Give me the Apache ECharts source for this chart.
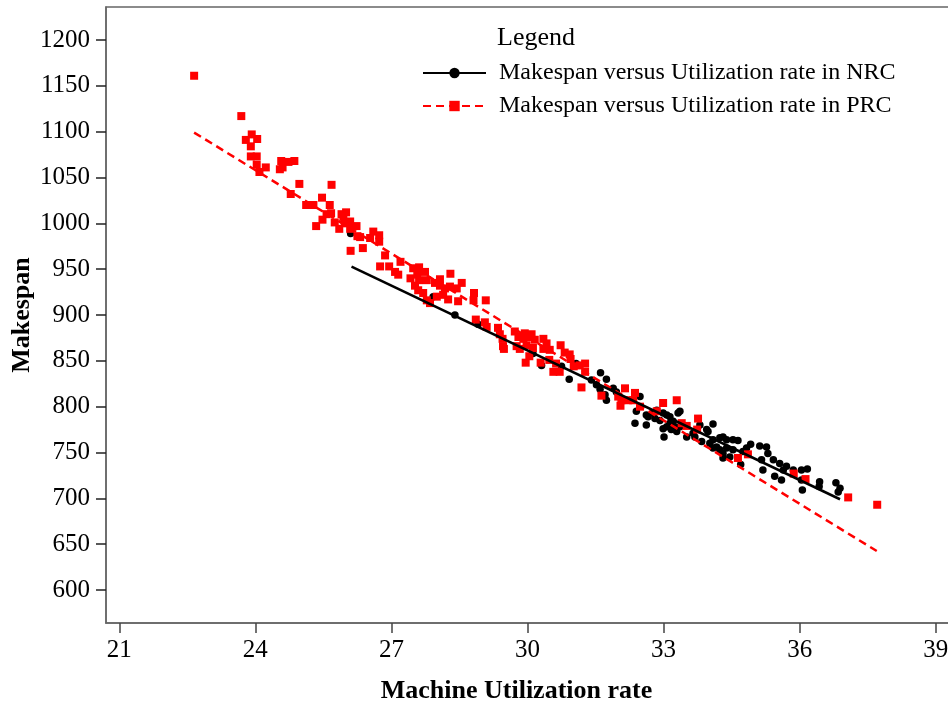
<!DOCTYPE html>
<html><head><meta charset="utf-8">
<script src="https://cdn.jsdelivr.net/npm/echarts@6/dist/echarts.min.js"></script>
<style>html,body{margin:0;padding:0;background:#fff}#c{width:948px;height:701px}</style>
</head><body><div id="c"></div>
<script>
const xTicks = [21, 24, 27, 30, 33, 36, 39];
const yTicks = [600, 650, 700, 750, 800, 850, 900, 950, 1000, 1050, 1100, 1150, 1200];

const nrcName = 'Makespan versus Utilization rate in NRC';
const prcName = 'Makespan versus Utilization rate in PRC';

const nrcUtil = [26.10,27.92,28.40,28.91,30.12,30.31,30.75,30.92,31.07,31.61,31.74,31.41,31.52,31.60,31.71,31.74,31.89,31.96,
  32.37,32.62,32.40,32.66,32.48,32.85,32.99,33.14,33.21,33.25,33.17,33.01,32.81,32.92,33.07,33.36,33.14,32.99,33.21,33.36,
  33.51,33.65,33.80,34.09,33.95,34.09,34.24,34.39,34.53,34.64,34.17,34.31,34.46,34.53,34.39,34.70,34.83,34.92,34.75,35.12,
  35.27,35.30,35.16,35.19,35.45,35.60,35.42,35.56,35.71,35.86,36.04,36.17,36.04,36.06,36.44,36.43,36.80,36.89,36.85,
  32.62,32.77,33.32,33.07,33.29,33.69,33.98,33.84,34.02,34.31,34.09,34.24,34.31,35.64];
const nrcMakespan = [989,920,900,890,858,845,844,830,847,837,830,829,824,819,813,807,820,816,
  782,780,795,789,811,796,793,789,784,778,775,767,787,785,791,795,782,776,776,778,
  767,771,780,781,775,764,766,764,764,763,756,749,745,753,755,737,755,759,751,757,
  756,749,742,731,724,720,742,738,735,731,731,732,720,709,718,713,717,711,707,
  791,793,793,778,773,767,773,762,760,767,755,753,744,731];

const prcUtil = [22.65,23.69,23.92,23.79,24.04,23.90,23.90,24.03,24.03,24.23,24.09,24.57,24.73,24.86,24.54,24.60,24.97,25.68,
  24.78,25.47,25.12,25.28,25.64,25.57,25.48,25.34,25.90,26.00,25.75,25.85,25.97,26.09,26.23,26.25,25.67,25.94,26.09,
  26.31,26.53,26.60,26.73,26.73,26.10,26.37,26.86,27.20,26.75,26.95,27.08,27.15,27.48,27.61,27.74,27.57,27.42,27.61,
  27.78,28.30,28.07,27.96,27.52,27.59,27.70,28.07,28.18,28.29,28.55,28.44,28.14,28.25,28.47,28.00,27.78,27.85,28.82,
  28.81,29.08,28.86,29.06,29.10,29.35,29.39,29.45,29.46,29.72,29.80,29.91,29.76,30.02,29.98,29.48,29.83,29.94,30.09,
  30.16,30.12,30.35,30.42,30.49,30.73,30.35,30.04,29.96,30.29,30.48,30.63,30.82,30.93,30.95,30.57,30.71,31.02,31.15,
  31.27,31.27,31.19,31.63,32.15,32.37,32.00,32.07,32.05,32.22,32.33,32.48,32.99,32.85,33.29,33.40,33.51,33.76,33.74,
  34.86,34.64,35.87,36.13,37.07,37.71];
const prcMakespan = [1161,1117,1097,1091,1092,1084,1073,1073,1064,1061,1056,1068,1067,1068,1059,1061,1043,1042,
  1032,1028,1020,1020,1020,1010,1004,997,1010,1012,1001,994,1000,994,997,986,1011,1007,1002,
  985,984,991,987,980,970,973,965,958,953,953,947,944,951,952,947,944,940,938,
  938,945,939,935,932,927,924,932,929,931,935,929,922,917,915,920,916,913,924,
  916,916,895,892,887,886,879,874,866,882,876,874,866,876,867,863,863,880,879,
  873,864,874,869,862,867,863,855,848,848,851,847,859,857,852,838,838,844,845,
  847,838,821,812,820,815,811,807,801,807,807,800,804,795,807,782,779,787,775,
  748,744,727,721,701,693];

// fitted regression lines (end points)
const nrcFitUtil = [26.12, 36.89];
const nrcFitMakespan = [952.7, 699];
const prcFitUtil = [22.65, 37.70];
const prcFitMakespan = [1099, 642.5];

const zip = (a, b) => a.map((v, i) => [v, b[i]]);
const FONT = '"Liberation Serif","Times New Roman",serif';

const chart = echarts.init(document.getElementById('c'), null, {renderer: 'canvas'});
chart.setOption({
  animation: false,
  backgroundColor: '#ffffff',
  title: {
    text: 'Legend', left: 497, top: 25, padding: 0,
    textStyle: {fontFamily: FONT, fontSize: 26, fontWeight: 'normal', color: '#000'}
  },
  legend: {
    orient: 'vertical', left: 422, top: 61, padding: 0, itemGap: 9,
    itemWidth: 63, itemHeight: 13, selectedMode: false,
    data: [nrcName, prcName],
    textStyle: {fontFamily: FONT, fontSize: 24, color: '#000', lineHeight: 24, padding: [0, 0, 0, 8]}
  },
  grid: {left: 106, top: 7, width: 843, height: 616, containLabel: false, outerBoundsMode: 'none',
         show: true, borderColor: '#666', borderWidth: 1.5, backgroundColor: 'transparent'},
  xAxis: {
    type: 'value', min: 20.707, max: 39.293,
    name: 'Machine Utilization rate', nameLocation: 'middle', nameGap: 55, nameMoveOverlap: false,
    nameTextStyle: {fontFamily: FONT, fontSize: 26, fontWeight: 'bold', color: '#000', padding: [0, 22, 0, 0]},
    axisLine: {lineStyle: {color: '#666', width: 1.5}},
    axisTick: {show: true, length: 10, customValues: xTicks, lineStyle: {color: '#444', width: 1.5}},
    axisLabel: {customValues: xTicks, margin: 15, fontFamily: FONT, fontSize: 25, color: '#000',
                formatter: v => String(v)},
    splitLine: {show: false}
  },
  yAxis: {
    type: 'value', min: 564, max: 1236,
    name: 'Makespan', nameLocation: 'middle', nameGap: 71, nameMoveOverlap: false,
    nameTextStyle: {fontFamily: FONT, fontSize: 26, fontWeight: 'bold', color: '#000'},
    axisLine: {show: true, lineStyle: {color: '#666', width: 1.5}},
    axisTick: {show: true, length: 10, customValues: yTicks, lineStyle: {color: '#222', width: 1.5}},
    axisLabel: {customValues: yTicks, margin: 16, fontFamily: FONT, fontSize: 25, color: '#000',
                formatter: v => String(v)},
    splitLine: {show: false}
  },
  series: [
    {name: 'NRC points', type: 'scatter', data: zip(nrcUtil, nrcMakespan), symbol: 'circle', symbolSize: 7.5,
     itemStyle: {color: '#000', opacity: 1}, z: 2},
    {name: 'PRC points', type: 'scatter', data: zip(prcUtil, prcMakespan), symbol: 'rect', symbolSize: 8,
     itemStyle: {color: '#ff0000', opacity: 1}, z: 3},
    {name: prcName, type: 'line', data: zip(prcFitUtil, prcFitMakespan), symbol: 'rect', showSymbol: false,
     color: '#ff0000', lineStyle: {color: '#ff0000', width: 2.5, type: [8, 5]}, itemStyle: {color: '#ff0000'}, z: 4},
    {name: nrcName, type: 'line', data: zip(nrcFitUtil, nrcFitMakespan), symbol: 'circle', showSymbol: false,
     color: '#000', lineStyle: {color: '#000', width: 2.5}, itemStyle: {color: '#000'}, z: 5}
  ]
});
</script>
</body></html>
